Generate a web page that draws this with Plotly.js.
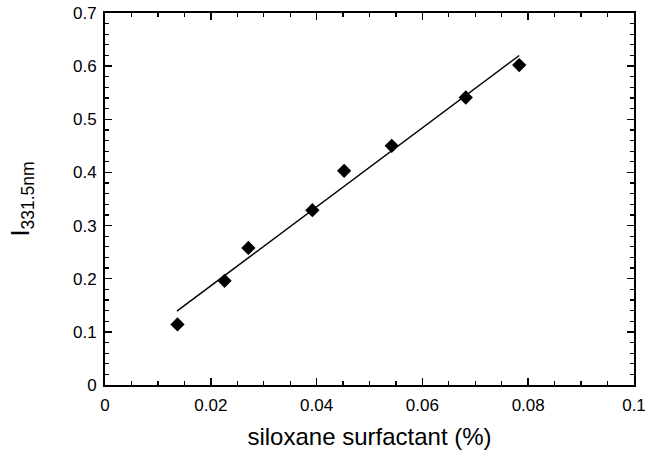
<!DOCTYPE html>
<html>
<head>
<meta charset="utf-8">
<script src="https://cdn.plot.ly/plotly-3.0.1.min.js"></script>
<style>html,body{margin:0;padding:0;background:#fff;}#chart{width:646px;height:456px;}</style>
</head>
<body>
<div id="chart"></div>
<script>
var surfactant = [0.0137, 0.0226, 0.0271, 0.0392, 0.0452, 0.0542, 0.0682, 0.0783];
var intensity = [0.114, 0.196, 0.258, 0.329, 0.403, 0.450, 0.541, 0.602];
var fitX = [0.0136, 0.0783];
var fitY = [0.139, 0.620];
var xTicks = [0, 0.02, 0.04, 0.06, 0.08, 0.1];
var xTickLabels = ['0', '0.02', '0.04', '0.06', '0.08', '0.1'];
var yTicks = [0, 0.1, 0.2, 0.3, 0.4, 0.5, 0.6, 0.7];
var yTickLabels = ['0', '0.1', '0.2', '0.3', '0.4', '0.5', '0.6', '0.7'];

var font = 'Liberation Sans, Arial, Helvetica, sans-serif';
var traces = [
  {x: fitX, y: fitY, mode: 'lines', line: {color: '#000', width: 1.5}, hoverinfo: 'skip'},
  {x: surfactant, y: intensity, mode: 'markers', marker: {symbol: 'diamond', size: 11, color: '#000'}}
];
var axisCommon = {
  showgrid: false, zeroline: false, showline: true, linecolor: '#000', linewidth: 2,
  mirror: 'ticks', ticks: 'inside', ticklen: 7, tickwidth: 1.5, tickcolor: '#000',
  tickfont: {family: font, size: 17, color: '#000'}, tickmode: 'array',
  ticklabeloverflow: 'allow'
};
var layout = {
  width: 646, height: 456,
  margin: {l: 105, r: 12, t: 13, b: 71},
  paper_bgcolor: '#fff', plot_bgcolor: '#fff',
  showlegend: false,
  xaxis: Object.assign({}, axisCommon, {
    range: [0, 0.1000001], tickvals: xTicks, ticktext: xTickLabels, ticklabelstandoff: 4,
    minor: {dtick: 0.005, ticks: 'inside', ticklen: 4, tickwidth: 1.2, tickcolor: '#000'},
    title: {text: 'siloxane surfactant (%)', font: {family: font, size: 24, color: '#000'}, standoff: 14}
  }),
  yaxis: Object.assign({}, axisCommon, {
    range: [0, 0.7000001], tickvals: yTicks, ticktext: yTickLabels, ticklabelstandoff: 3,
    minor: {dtick: 0.02, ticks: 'inside', ticklen: 4, tickwidth: 1.2, tickcolor: '#000'},
    title: {text: 'I<sub>331.5nm</sub>', font: {family: font, size: 25, color: '#000'}, standoff: 36}
  })
};
Plotly.newPlot('chart', traces, layout, {displayModeBar: false, staticPlot: true});
</script>
</body>
</html>
